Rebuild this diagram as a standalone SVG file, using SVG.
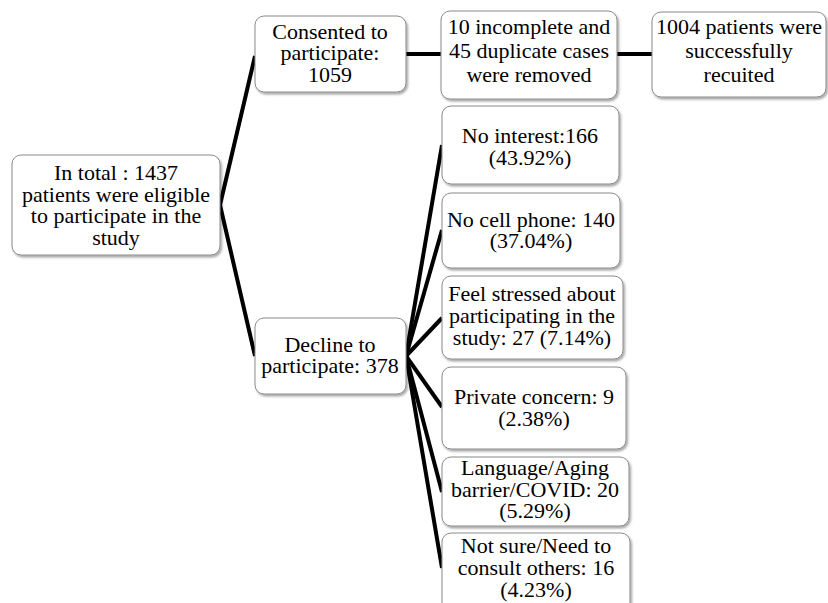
<svg xmlns="http://www.w3.org/2000/svg" width="828" height="603" viewBox="0 0 828 603">
<defs>
<filter id="sh" x="-10%" y="-10%" width="120%" height="130%">
<feDropShadow dx="1.5" dy="2" stdDeviation="1.2" flood-color="#000" flood-opacity="0.35"/>
</filter>
<style>
.box{fill:#fff;stroke:#8a8a8a;stroke-width:1;filter:url(#sh)}
.t{font-size:22px;fill:#000;text-anchor:middle}
.c{stroke:#000;stroke-width:4;fill:none;stroke-linecap:butt}
</style>
</defs>
<rect width="828" height="603" fill="#fff"/>
<g id="connectors">
<line class="c" x1="220" y1="205" x2="255" y2="56"/>
<line class="c" x1="220" y1="205" x2="255" y2="356"/>
<line class="c" x1="406" y1="54" x2="441" y2="54"/>
<line class="c" x1="617" y1="54" x2="652" y2="54"/>
<line class="c" x1="406" y1="356" x2="442" y2="145"/>
<line class="c" x1="406" y1="356" x2="442" y2="230"/>
<line class="c" x1="406" y1="356" x2="442" y2="318"/>
<line class="c" x1="406" y1="356" x2="442" y2="407"/>
<line class="c" x1="406" y1="356" x2="442" y2="492"/>
<line class="c" x1="406" y1="356" x2="442" y2="568"/>
</g>
<g font-family="'Liberation Serif', 'Times New Roman', serif">
<g id="root">
<rect class="box" x="12" y="155" width="208" height="100" rx="9"/>
<text class="t" x="116" y="180">In total : 1437</text>
<text class="t" x="116" y="202">patients were eligible</text>
<text class="t" x="116" y="223">to participate in the</text>
<text class="t" x="116" y="245">study</text>
</g>
<g id="consented">
<rect class="box" x="255" y="16" width="151" height="76" rx="9"/>
<text class="t" x="330" y="39">Consented to</text>
<text class="t" x="330" y="60">participate:</text>
<text class="t" x="330" y="82">1059</text>
</g>
<g id="removed">
<rect class="box" x="441" y="11" width="176" height="88" rx="9"/>
<text class="t" x="529" y="34">10 incomplete and</text>
<text class="t" x="529" y="58">45 duplicate cases</text>
<text class="t" x="529" y="82">were removed</text>
</g>
<g id="recruited">
<rect class="box" x="652" y="12" width="174" height="85" rx="9"/>
<text class="t" x="739" y="34">1004 patients were</text>
<text class="t" x="739" y="58">successfully</text>
<text class="t" x="739" y="82">recuited</text>
</g>
<g id="decline">
<rect class="box" x="255" y="318" width="151" height="76" rx="9"/>
<text class="t" x="330" y="352">Decline to</text>
<text class="t" x="330" y="373">participate: 378</text>
</g>
<g id="nointerest">
<rect class="box" x="442" y="106" width="177" height="78" rx="9"/>
<text class="t" x="530" y="143">No interest:166</text>
<text class="t" x="530" y="165">(43.92%)</text>
</g>
<g id="nophone">
<rect class="box" x="442" y="193" width="178" height="75" rx="9"/>
<text class="t" x="531" y="227">No cell phone: 140</text>
<text class="t" x="531" y="248">(37.04%)</text>
</g>
<g id="stressed">
<rect class="box" x="442" y="276" width="181" height="83" rx="9"/>
<text class="t" x="532" y="301">Feel stressed about</text>
<text class="t" x="532" y="323">participating in the</text>
<text class="t" x="532" y="345">study: 27 (7.14%)</text>
</g>
<g id="private">
<rect class="box" x="442" y="367" width="184" height="82" rx="9"/>
<text class="t" x="534" y="404">Private concern: 9</text>
<text class="t" x="534" y="426">(2.38%)</text>
</g>
<g id="language">
<rect class="box" x="442" y="457" width="187" height="69" rx="9"/>
<text class="t" x="535" y="475">Language/Aging</text>
<text class="t" x="535" y="497">barrier/COVID: 20</text>
<text class="t" x="535" y="518">(5.29%)</text>
</g>
<g id="notsure">
<rect class="box" x="442" y="533" width="188" height="80" rx="9"/>
<text class="t" x="536" y="553">Not sure/Need to</text>
<text class="t" x="536" y="575">consult others: 16</text>
<text class="t" x="536" y="597">(4.23%)</text>
</g>
</g>
</svg>
